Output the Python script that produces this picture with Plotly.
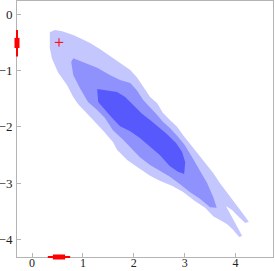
import plotly.graph_objects as go

# ---- data ----
light_x = [0.35, 0.45, 0.59, 0.81, 0.98, 1.14, 1.34, 1.57, 1.73, 1.93, 2.06, 2.18, 2.32, 2.46, 2.57, 2.71,
           2.85, 2.97, 3.20, 3.36, 3.56, 3.69, 3.89, 4.09, 4.26, 4.19, 4.05, 3.93, 3.81, 4.01, 4.13, 4.07,
           3.95, 3.83, 3.56, 3.40, 3.20, 2.97, 2.75, 2.51, 2.32, 2.06, 1.87, 1.67, 1.59, 1.39, 1.20, 1.02,
           0.90, 0.81, 0.69, 0.51, 0.39, 0.35]
light_y = [-0.32, -0.28, -0.30, -0.37, -0.44, -0.51, -0.62, -0.76, -0.87, -0.99, -1.12, -1.29, -1.47, -1.58,
           -1.75, -1.88, -2.00, -2.15, -2.41, -2.59, -2.82, -3.00, -3.25, -3.48, -3.69, -3.71, -3.59, -3.48,
           -3.41, -3.73, -3.94, -3.96, -3.83, -3.73, -3.59, -3.44, -3.32, -3.16, -3.05, -2.96, -2.87, -2.71,
           -2.59, -2.41, -2.27, -2.06, -1.88, -1.70, -1.59, -1.47, -1.26, -1.03, -0.78, -0.60]

mid_x = [0.81, 1.00, 1.28, 1.53, 1.73, 1.93, 2.06, 2.18, 2.32, 2.46, 2.57, 2.71, 2.85, 2.99, 3.12, 3.30,
         3.44, 3.56, 3.63, 3.50, 3.30, 3.10, 2.91, 2.71, 2.51, 2.32, 2.12, 1.93, 1.79, 1.59, 1.43, 1.28,
         1.10, 0.94, 0.81, 0.77]
mid_y = [-0.78, -0.85, -0.95, -1.08, -1.17, -1.22, -1.35, -1.52, -1.65, -1.79, -1.91, -2.02, -2.16, -2.31,
         -2.50, -2.77, -3.00, -3.25, -3.44, -3.43, -3.28, -3.16, -3.02, -2.89, -2.79, -2.68, -2.54, -2.36,
         -2.23, -2.06, -1.84, -1.70, -1.56, -1.31, -1.08, -0.85]

dark_x = [1.28, 1.49, 1.67, 1.83, 1.98, 2.16, 2.32, 2.48, 2.65, 2.83, 2.95, 3.01, 2.99, 2.87, 2.71, 2.51,
          2.32, 2.12, 1.93, 1.73, 1.57, 1.45, 1.30]
dark_y = [-1.33, -1.35, -1.38, -1.47, -1.61, -1.77, -1.88, -2.00, -2.13, -2.29, -2.45, -2.63, -2.84, -2.80,
          -2.70, -2.50, -2.36, -2.20, -2.08, -1.99, -1.84, -1.72, -1.56]

obs_point = [0.53, -0.50]
x_obs_outer = [0.31, 0.75]
x_obs_inner = [0.41, 0.65]
y_obs_outer = [-0.28, -0.75]
y_obs_inner = [-0.42, -0.60]

x_ticks = [0, 1, 2, 3, 4]
y_ticks = [0, -1, -2, -3, -4]
x_range = [-0.295, 4.735]
y_range = [-4.315, 0.236]

LIGHT = "#c4c6fe"
MID = "#8f92fd"
DARK = "#5759fd"
RED = "#ff0000"
FRAME = "#b4b4b4"

fig = go.Figure()
for xs, ys, col in [(light_x, light_y, LIGHT), (mid_x, mid_y, MID), (dark_x, dark_y, DARK)]:
    fig.add_trace(go.Scatter(x=xs, y=ys, mode="lines", fill="toself", fillcolor=col,
                             line=dict(width=0, color=col), hoverinfo="skip", showlegend=False))

fig.add_trace(go.Scatter(x=[obs_point[0]], y=[obs_point[1]], mode="markers",
                         marker=dict(symbol="cross-thin", size=6, line=dict(width=1, color=RED)),
                         showlegend=False, hoverinfo="skip"))

shapes = []
# marginal on left axis
shapes.append(dict(type="line", xref="x domain", yref="y", x0=0, x1=0,
                   y0=y_obs_outer[0], y1=y_obs_outer[1], line=dict(color=RED, width=2), layer="above"))
shapes.append(dict(type="line", xref="x domain", yref="y", x0=0, x1=0,
                   y0=y_obs_inner[0], y1=y_obs_inner[1], line=dict(color=RED, width=5), layer="above"))
# marginal on bottom axis
shapes.append(dict(type="line", xref="x", yref="y domain", y0=0, y1=0,
                   x0=x_obs_outer[0], x1=x_obs_outer[1], line=dict(color=RED, width=2), layer="above"))
shapes.append(dict(type="line", xref="x", yref="y domain", y0=0, y1=0,
                   x0=x_obs_inner[0], x1=x_obs_inner[1], line=dict(color=RED, width=5), layer="above"))

axis_common = dict(showgrid=False, zeroline=False, showline=True, linecolor=FRAME, linewidth=1,
                   mirror=True, ticks="inside", ticklen=4, tickcolor=FRAME, tickwidth=1,
                   automargin=False)

fig.update_layout(
    width=275, height=271,
    margin=dict(l=17, r=2, t=1, b=14, autoexpand=False),
    paper_bgcolor="white", plot_bgcolor="white",
    shapes=shapes,
    xaxis=dict(range=x_range, tickvals=x_ticks, ticktext=[str(v) for v in x_ticks],
               ticklabelstandoff=-5,
               tickfont=dict(family="Liberation Serif", size=12, color="#222222"), **axis_common),
    yaxis=dict(range=y_range, tickvals=y_ticks,
               ticktext=[("\u2212" + str(-v)) if v < 0 else str(v) for v in y_ticks],
               ticklabelstandoff=1,
               tickfont=dict(family="Liberation Serif", size=13, color="#222222"), **axis_common),
    hovermode=False,
)

fig.write_html("out.html", config={"displayModeBar": False, "responsive": False},
               post_script="document.body.style.margin='0';document.body.style.overflow='hidden';")
